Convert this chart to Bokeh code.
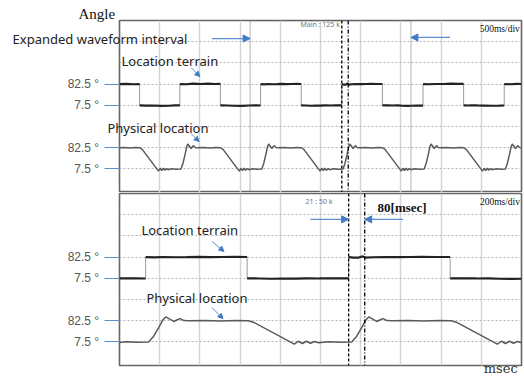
from bokeh.plotting import figure
from bokeh.layouts import column
from bokeh.models import Range1d, FixedTicker, BoxAnnotation, Span, Arrow, NormalHead
from bokeh.core.properties import value
from bokeh.embed import file_html
from bokeh.resources import INLINE

# ---------------- data (time in ms, angle in degrees) ----------------
terrain_t = [0, 80, 170, 250, 250, 330, 420, 520, 610, 690, 750, 750, 830, 920, 1010, 1100, 1190, 1255,
             1255, 1340, 1430, 1520, 1610, 1700, 1755, 1755, 1800, 1840, 1900, 1960, 2020, 2080, 2140, 2200,
             2260, 2260, 2320, 2380, 2440, 2500, 2560, 2620, 2700, 2765, 2765, 2790, 2815, 2835, 2850, 2890,
             2950, 3010, 3070, 3130, 3200, 3270, 3270, 3330, 3400, 3460, 3520, 3580, 3625, 3700, 3775, 3775,
             3850, 3940, 4030, 4120, 4200, 4280, 4280, 4360, 4450, 4540, 4630, 4720, 4785, 4785, 4870, 4940, 5000]
terrain_deg = [82.5, 83.5, 82, 82.5, 7.5, 6.5, 7, 5.5, 6, 7.5, 7.5, 82.5, 82, 84, 83, 84, 83, 83.5,
               7.5, 7, 6, 5.5, 7, 7.5, 7, 82.5, 81.5, 83, 82, 82.5, 83.5, 82.5, 83, 83.5,
               83, 7.5, 7, 6, 7, 6.5, 7.5, 7, 7.5, 7.5, 82.5, 80.5, 81, 85, 81, 82,
               83, 82.5, 83, 83.5, 83, 83, 7.5, 7.5, 7, 7.5, 6, 5.5, 6, 6.5, 6.5, 82.5,
               82, 83, 83, 84, 83.5, 83.5, 7.5, 7, 7, 6.5, 6, 6.5, 7, 82.5, 82, 83.5, 83]

physical_t = [0, 60, 130, 200,
              255, 285, 485, 505, 525, 545, 565, 585, 605, 650, 700,
              765, 790, 815, 835, 850, 870, 890, 910, 922, 940, 965, 1050, 1130, 1200,
              1260, 1290, 1490, 1510, 1530, 1550, 1570, 1590, 1610, 1660, 1710,
              1770, 1795, 1820, 1840, 1855, 1875, 1895, 1915, 1927, 1945, 1970, 2050, 2130, 2205,
              2265, 2295, 2495, 2515, 2535, 2555, 2575, 2595, 2615, 2665, 2720,
              2780, 2805, 2830, 2850, 2865, 2885, 2905, 2925, 2937, 2955, 2980, 3060, 3140, 3215,
              3275, 3305, 3505, 3525, 3545, 3565, 3585, 3605, 3625, 3675, 3730,
              3790, 3815, 3840, 3860, 3875, 3895, 3915, 3935, 3947, 3965, 3990, 4070, 4150, 4225,
              4285, 4315, 4515, 4535, 4555, 4575, 4595, 4615, 4635, 4685, 4740,
              4800, 4825, 4850, 4870, 4885, 4905, 4925, 4945, 4957, 4975, 5000]
physical_deg = [82.5, 83.5, 82, 83,
                82.5, 76, 0, 10, 2, 10, 3, 9, 5, 8, 6.5,
                7.5, 28, 58, 85, 96, 88, 80, 87, 90, 83, 82.5, 83.5, 82, 83,
                82.5, 76, 0, 10, 2, 10, 3, 9, 5, 8, 6.5,
                7.5, 28, 58, 85, 96, 88, 80, 87, 90, 83, 82.5, 83.5, 82, 83.5,
                82.5, 76, 0, 10, 2, 10, 3, 9, 5, 8, 6.5,
                7.5, 28, 58, 85, 96, 88, 80, 87, 90, 83, 82.5, 83.5, 82, 83.5,
                82.5, 76, 0, 10, 2, 10, 3, 9, 5, 8, 6.5,
                7.5, 28, 58, 85, 96, 88, 80, 87, 90, 83, 82.5, 83.5, 82, 83.5,
                82.5, 76, 0, 10, 2, 10, 3, 9, 5, 8, 6.5,
                7.5, 28, 58, 85, 96, 88, 80, 87, 90, 83, 82.5]

level_deg = [7.5, 82.5]
level_labels = ["7.5  \u00b0", "82.5  \u00b0"]
cursor_ms = [2765, 2845]          # measurement cursors (80 msec apart)
expanded_ms = [1625, 3625]        # expanded waveform interval
top_ms_per_div = 500
bottom_ms_per_div = 200
n_xdiv = 10

# ---------------- styling constants ----------------
DEG_PER_DIV = 75
TERRAIN_DIV = 4      # division where the terrain channel's 7.5 deg sits
PHYS_DIV = 1         # division where the physical channel's 7.5 deg sits
Y0, Y1 = -0.11, 8
BLUE = "#5b8fd0"
SANS = "Noto Sans"
SERIF = "Liberation Serif"


def chan_range(off):
    return Range1d(level_deg[0] + (Y0 - off) * DEG_PER_DIV, level_deg[0] + (Y1 - off) * DEG_PER_DIV)


def make_panel(x0, ms_per_div, height, border_top, border_bottom):
    p = figure(width=524, height=height, x_range=Range1d(x0, x0 + n_xdiv * ms_per_div),
               y_range=Range1d(Y0, Y1), output_backend="svg", toolbar_location=None,
               min_border_left=119, min_border_right=3, min_border_top=border_top,
               min_border_bottom=border_bottom)
    p.extra_y_ranges = {"terrain": chan_range(TERRAIN_DIV), "phys": chan_range(PHYS_DIV)}
    p.xaxis.visible = False
    p.xgrid.ticker = FixedTicker(ticks=[x0 + k * ms_per_div for k in range(1, n_xdiv)])
    p.xgrid.grid_line_color = "#d4d4d4"
    p.xgrid.grid_line_width = 1.5
    p.ygrid.ticker = FixedTicker(ticks=list(range(1, 8)))
    p.ygrid.grid_line_color = "#b4b4b4"
    p.ygrid.grid_line_dash = "2 2"
    p.ygrid.grid_line_width = 1
    ticks = [PHYS_DIV + (d - level_deg[0]) / DEG_PER_DIV for d in level_deg] + \
            [TERRAIN_DIV + (d - level_deg[0]) / DEG_PER_DIV for d in level_deg]
    p.yaxis.ticker = FixedTicker(ticks=ticks)
    p.yaxis.major_label_overrides = {t: lab for t, lab in zip(ticks, level_labels * 2)}
    p.yaxis.axis_line_color = None
    p.yaxis.major_tick_out = 15
    p.yaxis.major_tick_in = 0
    p.yaxis.major_tick_line_color = BLUE
    p.yaxis.major_tick_line_width = 1.2
    p.yaxis.minor_tick_line_color = None
    p.yaxis.major_label_standoff = 2
    p.yaxis.major_label_text_font = "Liberation Sans"
    p.yaxis.major_label_text_font_size = "12px"
    p.yaxis.major_label_text_color = "#555555"
    p.outline_line_color = "#666666"
    p.outline_line_width = 1.6
    p.background_fill_color = "white"
    p.border_fill_color = "white"

    # terrain: thin light transitions, thick dark levels
    p.line(terrain_t, terrain_deg, y_range_name="terrain", line_color="#9a9a9a", line_width=1)
    xs, ys, cx, cy = [], [], [terrain_t[0]], [terrain_deg[0]]
    for i in range(1, len(terrain_t)):
        if terrain_t[i] == terrain_t[i - 1]:
            xs.append(cx); ys.append(cy)
            cx, cy = [], []
        cx.append(terrain_t[i]); cy.append(terrain_deg[i])
    xs.append(cx); ys.append(cy)
    p.multi_line(xs, ys, y_range_name="terrain", line_color="#222222", line_width=2.2)
    p.line(physical_t, physical_deg, y_range_name="phys", line_color="#5a5a5a", line_width=1.5)

    p.add_layout(Span(location=cursor_ms[0], dimension="height", line_color="black",
                      line_dash="3 2", line_width=1.3))
    p.add_layout(Span(location=cursor_ms[1], dimension="height", line_color="black",
                      line_dash="4 2 1 2", line_width=1.3))
    return p


def label(p, x, y, text, font=SANS, size="13px", color="#222222", style="normal", baseline="middle"):
    p.text(x=[x], y=[y], text=[text], text_font=value(font), text_font_size=value(size),
           text_color=color, text_font_style=style, text_baseline=baseline, level="overlay")


def arrow(p, x0, y0, x1, y1, size=7, width=1.2):
    p.add_layout(Arrow(end=NormalHead(size=size, fill_color="#3f7cc4", line_color="#3f7cc4"),
                       x_start=x0, y_start=y0, x_end=x1, y_end=y1,
                       line_color=BLUE, line_width=width))


top = make_panel(0, top_ms_per_div, 192, 20, 0)
top.add_layout(BoxAnnotation(left=expanded_ms[0], right=expanded_ms[1], fill_alpha=0,
                             line_color="#555555", line_width=1.5))
label(top, -510, 8.33, "Angle", font=SERIF, size="15px", color="#111111")
label(top, -1330, 7.12, "Expanded waveform interval")
label(top, 25, 6.11, "Location terrain")
label(top, -150, 2.92, "Physical location")
label(top, 2250, 7.8, "Main : 125 k", size="7px", color="#777777")
label(top, 4480, 7.62, "500ms/div", font=SERIF, size="9.5px", color="#111111")
arrow(top, 1150, 7.15, expanded_ms[0], 7.15)
arrow(top, 4110, 7.2, expanded_ms[1], 7.2)
arrow(top, 890, 5.78, 1000, 5.36, size=5, width=1)
arrow(top, 890, 2.67, 990, 2.29, size=5, width=1)

bottom = make_panel(expanded_ms[0], bottom_ms_per_div, 184, 1, 11)
label(bottom, 1734, 6.30, "Location terrain")
label(bottom, 1759, 3.05, "Physical location")
label(bottom, 2550, 7.62, "21 : 50 k", size="7px", color="#777777")
label(bottom, 3418, 7.62, "200ms/div", font=SERIF, size="9.5px", color="#111111")
label(bottom, 2909, 7.34, "80[msec]", font=SERIF, size="13px", color="#111111", style="bold")
label(bottom, 3437, -0.25, "msec", font="DejaVu Serif", size="13px", color="#333333", baseline="middle")
arrow(bottom, 2575, 6.78, cursor_ms[0], 6.78)
arrow(bottom, 3035, 6.78, cursor_ms[1], 6.78)
arrow(bottom, 2085, 5.74, 2145, 5.27, size=5, width=1)
arrow(bottom, 2085, 2.62, 2140, 2.10, size=5, width=1)

layout = column(top, bottom, spacing=0)
open("out.html", "w").write(file_html(layout, INLINE))
